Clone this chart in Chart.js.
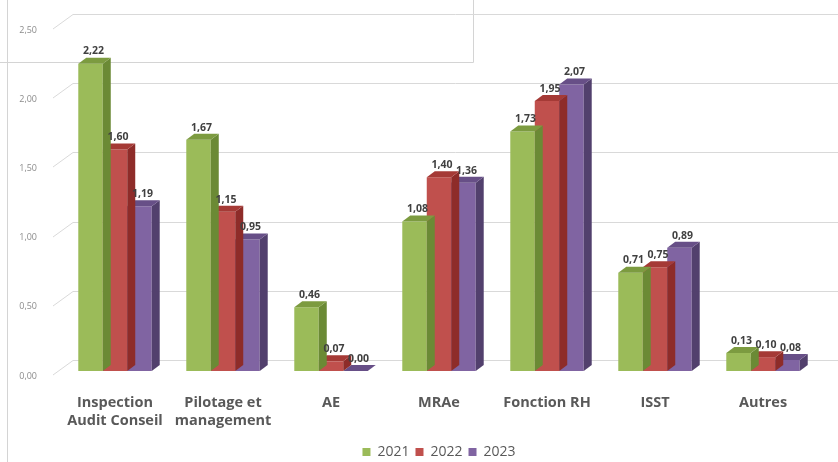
<!DOCTYPE html>
<html>
<head>
<meta charset="utf-8">
<script src="https://cdn.jsdelivr.net/npm/chart.js@4.4.1/dist/chart.umd.min.js"></script>
<style>
  html, body { margin: 0; padding: 0; background: #fff; }
  #wrap { width: 838px; height: 462px; position: relative; }
</style>
</head>
<body>
<div id="wrap"><canvas id="chart"></canvas></div>
<script>
// Data
const categories = [['Inspection', 'Audit Conseil'], ['Pilotage et', 'management'], 'AE', 'MRAe', 'Fonction RH', 'ISST', 'Autres'];
const years = ['2021', '2022', '2023'];
const values2021 = [2.22, 1.67, 0.46, 1.08, 1.73, 0.71, 0.13];
const values2022 = [1.60, 1.15, 0.07, 1.40, 1.95, 0.75, 0.10];
const values2023 = [1.19, 0.95, 0.00, 1.36, 2.07, 0.89, 0.08];

const frontColors = ['#9bbb59', '#c0504d', '#8064a2'];
const sideColors = ['#6b8a35', '#8e2c29', '#52406d'];
const topColors = ['#7c9b40', '#a53a36', '#674f87'];

const DX = 8, DY = -6; // depth of the bars

const fmt = v => v.toFixed(2).replace('.', ',');

// fake 3d: side + top faces after each dataset, back-wall gridlines, value labels
const threeD = {
    id: 'threeD',
    beforeDraw(chart) {
        const ctx = chart.ctx;
        ctx.save();
        ctx.strokeStyle = '#d4d4d4';
        ctx.lineWidth = 1;
        ctx.beginPath();
        ctx.moveTo(7.5, 0); ctx.lineTo(7.5, 462);
        ctx.moveTo(0, 62.5); ctx.lineTo(473.5, 62.5); ctx.lineTo(473.5, 0);
        ctx.stroke();
        ctx.restore();
    },
    beforeDatasetsDraw(chart) {
        const ctx = chart.ctx;
        const y = chart.scales.y;
        const left = chart.chartArea.left;
        ctx.save();
        ctx.strokeStyle = '#d9d9d9';
        ctx.lineWidth = 1;
        y.ticks.forEach(t => {
            const py = Math.round(y.getPixelForValue(t.value));
            ctx.beginPath();
            ctx.moveTo(left - 8, py + 4);
            ctx.lineTo(left + 12, py - 11 + 0.5);
            ctx.lineTo(chart.width, py - 11 + 0.5);
            ctx.stroke();
        });
        ctx.restore();
    },
    afterDatasetDraw(chart, args) {
        const ctx = chart.ctx;
        const i = args.index;
        ctx.save();
        args.meta.data.forEach(bar => {
            const x0 = bar.x - bar.width / 2, x1 = bar.x + bar.width / 2;
            const top = bar.y, base = bar.base;
            // side
            ctx.fillStyle = sideColors[i];
            ctx.beginPath();
            ctx.moveTo(x1, base);
            ctx.lineTo(x1, top);
            ctx.lineTo(x1 + DX, top + DY);
            ctx.lineTo(x1 + DX, base + DY);
            ctx.closePath();
            ctx.fill();
            // top
            ctx.fillStyle = topColors[i];
            ctx.beginPath();
            ctx.moveTo(x0, top);
            ctx.lineTo(x1, top);
            ctx.lineTo(x1 + DX, top + DY);
            ctx.lineTo(x0 + DX, top + DY);
            ctx.closePath();
            ctx.fill();
        });
        ctx.restore();
    },
    afterDatasetsDraw(chart) {
        const ctx = chart.ctx;
        ctx.save();
        ctx.font = 'bold 10.5px "Open Sans"';
        ctx.fillStyle = '#404040';
        ctx.textAlign = 'center';
        ctx.textBaseline = 'bottom';
        chart.data.datasets.forEach((ds, i) => {
            chart.getDatasetMeta(i).data.forEach((bar, j) => {
                ctx.fillText(fmt(ds.data[j]), bar.x + 3, bar.y + DY - 1);
            });
        });
        ctx.restore();
    }
};

new Chart(document.getElementById('chart'), {
    type: 'bar',
    data: {
        labels: categories,
        datasets: [
            { label: years[0], data: values2021, backgroundColor: frontColors[0] },
            { label: years[1], data: values2022, backgroundColor: frontColors[1] },
            { label: years[2], data: values2023, backgroundColor: frontColors[2] }
        ]
    },
    options: {
        responsive: true,
        maintainAspectRatio: false,
        animation: false,
        layout: { padding: { top: 25, right: 21, left: 0, bottom: -7 } },
        datasets: { bar: { barPercentage: 1, categoryPercentage: 0.68 } },
        plugins: {
            tooltip: { enabled: false },
            legend: {
                position: 'bottom',
                fullSize: false,
                labels: {
                    boxWidth: 8,
                    boxHeight: 8,
                    padding: 6,
                    color: '#595959',
                    font: { family: 'Open Sans', size: 14 }
                }
            }
        },
        scales: {
            x: {
                grid: { display: false },
                border: { display: false },
                ticks: {
                    padding: 14,
                    maxRotation: 0,
                    color: '#595959',
                    font: { family: 'Open Sans', size: 14.5, weight: 'bold', lineHeight: 1.3 }
                },
                afterFit: s => { s.height = 68; }
            },
            y: {
                min: 0,
                max: 2.5,
                grid: { display: false },
                border: { display: false },
                ticks: {
                    stepSize: 0.5,
                    padding: 16,
                    labelOffset: 5,
                    color: '#8c8c8c',
                    font: { family: 'Open Sans', size: 9 },
                    callback: v => fmt(v)
                },
                afterFit: s => { s.width = 61; }
            }
        }
    },
    plugins: [threeD]
});
</script>
</body>
</html>
